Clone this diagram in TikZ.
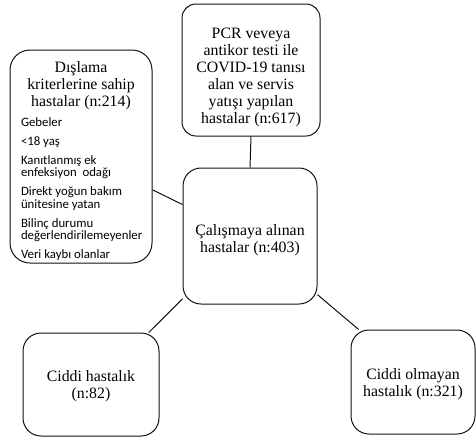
\documentclass[tikz,border=0pt]{standalone}
\usepackage{fontspec}
\setmainfont{Liberation Serif}
\newfontfamily\listfont{Carlito}
\usetikzlibrary{positioning}
\definecolor{Ink}{HTML}{111111}
\newcommand{\BoxFont}{\fontsize{15.8}{17}\selectfont}
\newcommand{\ListFont}{\listfont\fontsize{12.8}{12.5}\selectfont\lineskiplimit=-10pt}
\newcommand{\Drop}[1]{\rule{0pt}{#1}}
\newcommand{\ItemGap}{\par\vspace{6.5pt}}

\begin{document}
\begin{tikzpicture}[x=1pt, y=-1pt,
    box/.style={draw=Ink, line width=1pt, rounded corners=18pt, inner sep=0pt,
        align=center, font=\BoxFont},
    link/.style={draw=Ink, line width=1pt}]
\useasboundingbox (0,0) rectangle (476,437);

% boxes
\node[box, minimum width=138pt, minimum height=132pt, rounded corners=14pt] (pcr) at (251,70)
    {\Drop{25.6pt}PCR veveya\\antikor testi ile\\COVID-19 tanısı\\alan ve servis\\yatışı yapılan\\hastalar (n:617)};

\node[box, minimum width=142pt, minimum height=213pt, rounded corners=20pt] (excl) at (81,156.5)
    {\parbox[c][213pt][t]{120pt}{\vspace*{11.5pt}%
        {\centering\BoxFont Dışlama\\kriterlerine sahip\\hastalar (n:214)\par}
        \vspace{7.5pt}
        {\raggedright\ListFont
        Gebeler\ItemGap
        <18 yaş\ItemGap
        Kanıtlanmış ek\\enfeksiyon\ \ odağı\ItemGap
        Direkt yoğun bakım\\ünitesine yatan\ItemGap
        Bilinç durumu\\değerlendirilemeyenler\ItemGap
        Veri kaybı olanlar\par}}};

\node[box, minimum width=134pt, minimum height=136pt] (study) at (250,236)
    {\Drop{18.5pt}Çalışmaya alınan\\hastalar (n:403)};

\node[box, minimum width=136pt, minimum height=103pt] (severe) at (91,384.5)
    {\Drop{15.3pt}Ciddi hastalık\\(n:82)};

\node[box, minimum width=124pt, minimum height=104pt] (mild) at (413,382)
    {\Drop{16.3pt}Ciddi olmayan\\hastalık (n:321)};

% connectors
\draw[link] (pcr.south) -- (study.north);
\draw[link] (excl.-25.9) -- (study.155.2);
\draw[link] (study.223.2) -- (severe.42.6);
\draw[link] (study.-41.3) -- (mild.136.6);

\end{tikzpicture}
\end{document}
